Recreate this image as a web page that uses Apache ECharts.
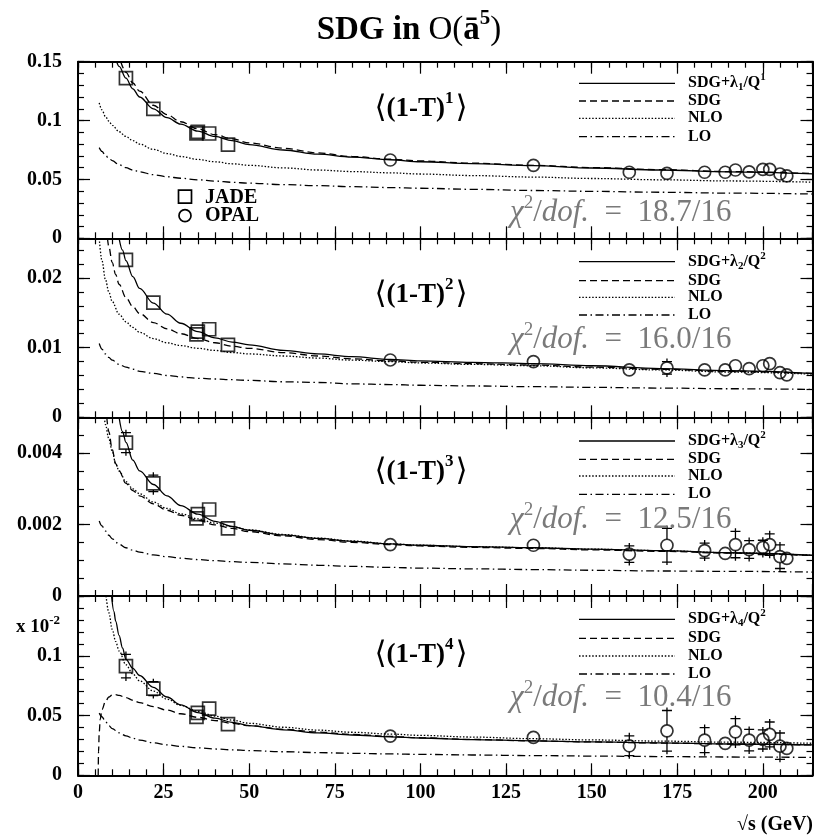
<!DOCTYPE html>
<html><head><meta charset="utf-8">
<script src="https://cdn.jsdelivr.net/npm/echarts@6/dist/echarts.min.js"></script>
<style>html,body{margin:0;padding:0;background:#fff}#c{width:818px;height:838px}</style>
</head><body><div id="c"></div><script>
// ---------------- DATA ----------------
const jadeX = [14, 22, 34.6, 35, 38.3, 43.8];
const opalX = [91.2, 133, 161, 172, 183, 189, 192, 196, 200, 202, 205, 207];
const xTickLabels = ['0', '25', '50', '75', '100', '125', '150', '175', '200'];

// Panel 1: <(1-T)^1>
const p1Jade = [0.136, 0.1099, 0.0892, 0.0905, 0.089, 0.0795];
const p1JadeErr = [0.001, 0.001, 0.0008, 0.0008, 0.001, 0.001];
const p1Opal = [0.0665, 0.062, 0.0561, 0.0552, 0.0561, 0.0561, 0.058, 0.0564, 0.0586, 0.0586, 0.0546, 0.053];
const p1OpalErr = [0.0003, 0.001, 0.0015, 0.0015, 0.001, 0.001, 0.0012, 0.0012, 0.0012, 0.0012, 0.0012, 0.001];
const p1Solid = [[11.3,0.150],[12,0.146],[14,0.136],[16,0.127],[18,0.120],[22,0.110],[26,0.1025],[30,0.097],[35,0.091],[40,0.0865],[45,0.083],[50,0.0795],[60,0.075],[70,0.0715],[80,0.069],[91.2,0.0667],[100,0.065],[115,0.0635],[133,0.0617],[150,0.0597],[170,0.058],[190,0.0565],[214.5,0.0548]];
const p1Sdg = [[12.5,0.150],[14,0.141],[16,0.132],[18,0.125],[22,0.113],[26,0.105],[30,0.099],[35,0.093],[40,0.088],[45,0.0845],[50,0.081],[60,0.0765],[70,0.0725],[80,0.0695],[91.2,0.0672],[100,0.0657],[115,0.0638],[133,0.062],[150,0.0601],[170,0.0583],[190,0.0567],[214.5,0.055]];
const p1Nlo = [[6.2,0.115],[7,0.109],[8,0.1035],[9,0.0995],[10,0.096],[12,0.0905],[14,0.0865],[16,0.083],[18,0.080],[22,0.0755],[26,0.072],[30,0.0695],[35,0.067],[40,0.065],[45,0.0633],[50,0.062],[60,0.0598],[70,0.058],[80,0.0567],[91.2,0.0556],[100,0.0546],[115,0.0533],[133,0.052],[150,0.0508],[170,0.0497],[190,0.0487],[214.5,0.0477]];
const p1Lo = [[6.2,0.077],[7,0.0738],[8,0.0705],[9,0.068],[10,0.066],[12,0.0625],[14,0.060],[16,0.058],[18,0.0565],[22,0.054],[26,0.0523],[30,0.051],[35,0.0497],[40,0.0486],[45,0.0476],[50,0.0468],[60,0.0456],[70,0.0447],[80,0.0439],[91.2,0.0431],[100,0.0425],[115,0.0416],[133,0.0406],[150,0.0399],[170,0.0391],[190,0.0384],[214.5,0.0376]];

// Panel 2: <(1-T)^2>
const p2Jade = [0.0226, 0.01647, 0.0119, 0.0123, 0.01264, 0.01039];
const p2JadeErr = [0.0003, 0.0003, 0.0002, 0.0002, 0.0002, 0.0002];
const p2Opal = [0.00823, 0.0080, 0.0068, 0.0071, 0.0068, 0.0068, 0.0074, 0.0070, 0.0074, 0.0077, 0.0064, 0.0061];
const p2OpalErr = [0.0001, 0.0002, 0.0005, 0.0009, 0.0003, 0.0002, 0.0006, 0.0004, 0.0004, 0.0006, 0.0004, 0.0002];
const p2Solid = [[12,0.0257],[13,0.0240],[14,0.0225],[16,0.0202],[18,0.0185],[22,0.0164],[26,0.0148],[30,0.0135],[35,0.0123],[40,0.0114],[45,0.0108],[50,0.0104],[60,0.0096],[70,0.0091],[80,0.0087],[91.2,0.0083],[100,0.0081],[115,0.0079],[133,0.0077],[150,0.0074],[170,0.0070],[190,0.0067],[214.5,0.0063]];
const p2Sdg = [[8.6,0.0257],[9,0.0245],[10,0.0222],[11,0.0205],[12,0.0191],[14,0.0172],[16,0.0159],[18,0.0149],[22,0.0136],[26,0.0127],[30,0.0120],[35,0.0113],[40,0.0107],[45,0.0102],[50,0.0099],[60,0.0093],[70,0.0088],[80,0.0084],[91.2,0.0081],[100,0.0079],[115,0.0077],[133,0.0075],[150,0.0072],[170,0.0069],[190,0.0066],[214.5,0.0063]];
const p2Nlo = [[6.2,0.0257],[7,0.0225],[8,0.0198],[9,0.0180],[10,0.0166],[12,0.0148],[14,0.0137],[16,0.0129],[18,0.0122],[22,0.0113],[26,0.0107],[30,0.0103],[35,0.0099],[40,0.0096],[45,0.0093],[50,0.0091],[60,0.0088],[70,0.0085],[80,0.0082],[91.2,0.0080],[100,0.0078],[115,0.0076],[133,0.0074],[150,0.0071],[170,0.0068],[190,0.0065],[214.5,0.0062]];
const p2Lo = [[6.2,0.0106],[7,0.0098],[8,0.0091],[9,0.0086],[10,0.0082],[12,0.0076],[14,0.0072],[16,0.0069],[18,0.0066],[22,0.0063],[26,0.0060],[30,0.0058],[35,0.0056],[40,0.0055],[45,0.0054],[50,0.0053],[60,0.0051],[70,0.0050],[80,0.0048],[91.2,0.0047],[100,0.0046],[115,0.0045],[133,0.0044],[150,0.0043],[170,0.0042],[190,0.0041],[214.5,0.0040]];

// Panel 3: <(1-T)^3>
const p3Jade = [0.00429, 0.00315, 0.00217, 0.00229, 0.00242, 0.00189];
const p3JadeErr = [0.00028, 0.00023, 0.00008, 0.00008, 0.0001, 0.00006];
const p3Opal = [0.00144, 0.00142, 0.00117, 0.00142, 0.00127, 0.00119, 0.00144, 0.0013, 0.00136, 0.00144, 0.0011, 0.00105];
const p3OpalErr = [0.00003, 0.0001, 0.00023, 0.00047, 0.00021, 0.0001, 0.00037, 0.00025, 0.0002, 0.0003, 0.00033, 0.0001];
const p3Solid = [[12,0.0050],[13,0.0046],[14,0.0043],[16,0.0038],[18,0.0035],[22,0.00312],[26,0.0028],[30,0.00253],[35,0.00229],[40,0.00209],[45,0.00195],[50,0.00184],[60,0.00171],[70,0.00161],[80,0.00153],[91.2,0.00146],[100,0.00142],[115,0.00138],[133,0.00135],[150,0.00131],[170,0.00127],[190,0.00121],[214.5,0.00114]];
const p3Sdg = [[8.4,0.0050],[9,0.0046],[10,0.0041],[11,0.0037],[12,0.0035],[14,0.00315],[16,0.00295],[18,0.0028],[22,0.00258],[26,0.0024],[30,0.00226],[35,0.00212],[40,0.00199],[45,0.00189],[50,0.0018],[60,0.00168],[70,0.00158],[80,0.0015],[91.2,0.00144],[100,0.0014],[115,0.00136],[133,0.00133],[150,0.00129],[170,0.00125],[190,0.0012],[214.5,0.00113]];
const p3Nlo = [[7.7,0.0050],[8,0.0048],[9,0.0044],[10,0.00405],[11,0.0037],[12,0.0035],[14,0.0032],[16,0.003],[18,0.00286],[22,0.00263],[26,0.00245],[30,0.0023],[35,0.00216],[40,0.00204],[45,0.00194],[50,0.00185],[60,0.00172],[70,0.00162],[80,0.00154],[91.2,0.00146],[100,0.00142],[115,0.00138],[133,0.00135],[150,0.00131],[170,0.00127],[190,0.00121],[214.5,0.00114]];
const p3Lo = [[6.2,0.0021],[7,0.00196],[8,0.00182],[9,0.0017],[10,0.0016],[12,0.00145],[14,0.00135],[16,0.00128],[18,0.00123],[22,0.00115],[26,0.0011],[30,0.00106],[35,0.00102],[40,0.00099],[45,0.00096],[50,0.00094],[60,0.0009],[70,0.00086],[80,0.00083],[91.2,0.0008],[100,0.00078],[115,0.00076],[133,0.00074],[150,0.00072],[170,0.0007],[190,0.00069],[214.5,0.00067]];

// Panel 4: <(1-T)^4>  (x 10^-2)
const p4Jade = [0.0913, 0.0725, 0.0488, 0.0522, 0.0558, 0.0428];
const p4JadeErr = [0.0098, 0.0058, 0.003, 0.003, 0.004, 0.003];
const p4Opal = [0.0328, 0.0317, 0.0247, 0.0372, 0.0294, 0.0267, 0.0364, 0.0294, 0.03, 0.0342, 0.0244, 0.0225];
const p4OpalErr = [0.001, 0.002, 0.0083, 0.017, 0.0105, 0.003, 0.011, 0.009, 0.008, 0.0104, 0.011, 0.003];
const p4Solid = [[9.8,0.150],[10.5,0.137],[11,0.129],[12,0.117],[13,0.1065],[14,0.097],[16,0.0895],[18,0.0835],[22,0.0735],[26,0.0655],[30,0.059],[35,0.0525],[40,0.0478],[45,0.0443],[50,0.0416],[60,0.038],[70,0.0355],[80,0.0337],[91.2,0.0322],[100,0.0312],[115,0.0299],[133,0.0288],[150,0.0279],[170,0.0271],[190,0.0262],[214.5,0.0255]];
const p4Sdg = [[5.9,0],[6,0.02],[6.2,0.036],[6.5,0.047],[7,0.055],[8,0.0615],[9,0.0655],[10,0.0672],[11,0.0675],[12,0.0668],[14,0.065],[16,0.0628],[18,0.0608],[22,0.0575],[26,0.0545],[30,0.0515],[35,0.0485],[40,0.0458],[45,0.0435],[50,0.0415],[60,0.0385],[70,0.0362],[80,0.0342],[91.2,0.0325],[100,0.0314],[115,0.03],[133,0.0288],[150,0.0279],[170,0.027],[190,0.0262],[214.5,0.0254]];
const p4Nlo = [[8.2,0.150],[9,0.136],[10,0.122],[11,0.112],[12,0.104],[14,0.0925],[16,0.0848],[18,0.079],[22,0.0705],[26,0.0637],[30,0.0585],[35,0.0535],[40,0.0495],[45,0.0462],[50,0.0435],[60,0.0402],[70,0.0378],[80,0.036],[91.2,0.0345],[100,0.0334],[115,0.032],[133,0.0306],[150,0.0296],[170,0.0286],[190,0.0277],[214.5,0.0268]];
const p4Lo = [[6.2,0.052],[7,0.049],[8,0.045],[9,0.0415],[10,0.039],[12,0.0355],[14,0.033],[16,0.031],[18,0.0295],[22,0.0272],[26,0.0255],[30,0.0242],[35,0.023],[40,0.022],[45,0.0213],[50,0.0207],[60,0.0197],[70,0.019],[80,0.0184],[91.2,0.0179],[100,0.0175],[115,0.017],[133,0.0165],[150,0.0161],[170,0.0157],[190,0.0153],[214.5,0.015]];

const yMaxs = [0.15, 0.0257, 0.005, 0.15];
const yMajors = [0.05, 0.01, 0.002, 0.05];
const yMinors = [0.01, 0.002, 0.0005, 0.01];
const chi2Labels = ['18.7/16', '16.0/16', '12.5/16', '10.4/16'];
const qPowers = ['1', '2', '2', '2'];
const legendNames = ['SDG', 'NLO', 'LO'];

// ---------------- LAYOUT ----------------
const FONT = '"Liberation Serif", "Times New Roman", "DejaVu Serif", serif';
const XMAX = 214.5;
const LEFT = 78, WIDTH = 734.5;
const geom = [
  {top: 61.7, h: 176.6, label: 109, chi: 213, rows: [83.3, 101, 118.3, 136.7]},
  {top: 238.3, h: 179, label: 295, chi: 340, rows: [261.7, 280.7, 297.3, 315]},
  {top: 417.3, h: 178.7, label: 472, chi: 520, rows: [441, 459.3, 476, 494.3]},
  {top: 596, h: 179.3, label: 655, chi: 698, rows: [619.3, 638.3, 656, 674]}
];
const panelData = [
  {jade: p1Jade, jadeErr: p1JadeErr, opal: p1Opal, opalErr: p1OpalErr, curves: [p1Solid, p1Sdg, p1Nlo, p1Lo]},
  {jade: p2Jade, jadeErr: p2JadeErr, opal: p2Opal, opalErr: p2OpalErr, curves: [p2Solid, p2Sdg, p2Nlo, p2Lo]},
  {jade: p3Jade, jadeErr: p3JadeErr, opal: p3Opal, opalErr: p3OpalErr, curves: [p3Solid, p3Sdg, p3Nlo, p3Lo]},
  {jade: p4Jade, jadeErr: p4JadeErr, opal: p4Opal, opalErr: p4OpalErr, curves: [p4Solid, p4Sdg, p4Nlo, p4Lo]}
];
const DASHES = ['solid', [7, 4], [1.5, 1.8], [8, 3.5, 1.5, 3.5]];

const fmt = v => String(Math.round(v * 1e6) / 1e6);

const grids = [], xAxes = [], yAxes = [], series = [], graphics = [];

function xAxis(i, pos, major) {
  return {
    type: 'value', gridIndex: i, position: pos, min: 0, max: XMAX,
    interval: major ? 25 : 5,
    axisLine: {show: major, onZero: false, lineStyle: {color: '#000', width: 2}},
    axisTick: {show: true, inside: true, length: major ? 12 : 6, lineStyle: {color: '#000', width: 1.2}},
    axisLabel: {
      show: major && pos === 'bottom' && i === 3, showMaxLabel: false, margin: 8,
      color: '#000', fontFamily: FONT, fontWeight: 'bold', fontSize: 20,
      formatter: v => xTickLabels[Math.round(v / 25)] || ''
    },
    splitLine: {show: false}, minorTick: {show: false}
  };
}
function yAxis(i, pos, major) {
  return {
    type: 'value', gridIndex: i, position: pos, min: 0, max: yMaxs[i],
    interval: major ? yMajors[i] : yMinors[i],
    axisLine: {show: major, onZero: false, lineStyle: {color: '#000', width: 2}},
    axisTick: {show: true, inside: true, length: major ? 12 : 6, lineStyle: {color: '#000', width: 1.2}},
    axisLabel: {
      show: major && pos === 'left', showMaxLabel: i === 0, showMinLabel: true, margin: 16,
      color: '#000', fontFamily: FONT, fontWeight: 'bold', fontSize: 20,
      formatter: fmt
    },
    splitLine: {show: false}, minorTick: {show: false}
  };
}

function errRender(params, api) {
  const x = api.value(0), y = api.value(1), e = api.value(2), r = api.value(3);
  const c = api.coord([x, y]);
  const hi = api.coord([x, y + e]);
  const lo = api.coord([x, y - e]);
  const st = {stroke: '#000', lineWidth: 1.3};
  const ch = [];
  const cap = 5, ext = 3;
  if (c[1] - hi[1] > r) {
    ch.push({type: 'line', shape: {x1: c[0], y1: c[1] - r, x2: c[0], y2: hi[1] - ext}, style: st});
    ch.push({type: 'line', shape: {x1: c[0] - cap, y1: hi[1], x2: c[0] + cap, y2: hi[1]}, style: st});
  }
  if (lo[1] - c[1] > r) {
    ch.push({type: 'line', shape: {x1: c[0], y1: c[1] + r, x2: c[0], y2: lo[1] + ext}, style: st});
    ch.push({type: 'line', shape: {x1: c[0] - cap, y1: lo[1], x2: c[0] + cap, y2: lo[1]}, style: st});
  }
  return {type: 'group', children: ch};
}

geom.forEach((g, i) => {
  grids.push({left: LEFT, width: WIDTH, top: g.top, height: g.h, show: false, containLabel: false, outerBoundsMode: 'none'});
  xAxes.push(xAxis(i, 'bottom', true), xAxis(i, 'bottom', false), xAxis(i, 'top', true), xAxis(i, 'top', false));
  yAxes.push(yAxis(i, 'left', true), yAxis(i, 'left', false), yAxis(i, 'right', true), yAxis(i, 'right', false));
  const ax = {xAxisIndex: 4 * i, yAxisIndex: 4 * i};
  const P = panelData[i];
  P.curves.forEach((cv, k) => {
    series.push(Object.assign({
      type: 'line', data: cv, showSymbol: false, smooth: 0.35, smoothMonotone: 'x', clip: true,
      lineStyle: {color: '#000', width: 1.3, type: DASHES[k]}, silent: true, z: 2
    }, ax));
  });
  series.push(Object.assign({
    type: 'custom', renderItem: errRender, clip: true, z: 3,
    data: jadeX.map((x, k) => [x, P.jade[k], P.jadeErr[k], 6.5])
      .concat(opalX.map((x, k) => [x, P.opal[k], P.opalErr[k], 6]))
  }, ax));
  series.push(Object.assign({
    type: 'scatter', data: jadeX.map((x, k) => [x, P.jade[k]]), symbol: 'rect', symbolSize: 13,
    itemStyle: {color: 'rgba(0,0,0,0)', borderColor: '#000', borderWidth: 1.7}, z: 4, silent: true
  }, ax));
  series.push(Object.assign({
    type: 'scatter', data: opalX.map((x, k) => [x, P.opal[k]]), symbol: 'circle', symbolSize: 12,
    itemStyle: {color: 'rgba(0,0,0,0)', borderColor: '#000', borderWidth: 1.7}, z: 4, silent: true
  }, ax));

  // panel label <(1-T)^n>
  graphics.push({type: 'text', x: 421, y: g.label, z: 10, style: {
    text: '{a|⟨}{b|(1-T)}{s|' + (i + 1) + '}{a|⟩}', align: 'center', verticalAlign: 'middle',
    rich: {
      a: {fontFamily: FONT, fontSize: 31, fill: '#000', verticalAlign: 'middle'},
      b: {fontFamily: FONT, fontWeight: 'bold', fontSize: 27, fill: '#000', verticalAlign: 'middle'},
      s: {fontFamily: FONT, fontWeight: 'bold', fontSize: 17, fill: '#000', verticalAlign: 'middle', padding: [0, 2, 20, 0]}
    }}});
  // chi2
  graphics.push({type: 'text', x: 510, y: g.chi, z: 10, style: {
    text: '{i|χ}{s|2}{n|/}{i|dof.}{n|  =  ' + chi2Labels[i] + '}', align: 'left', verticalAlign: 'middle',
    rich: {
      i: {fontFamily: FONT, fontStyle: 'italic', fontSize: 31, fill: '#7a7a7a', verticalAlign: 'middle'},
      n: {fontFamily: FONT, fontSize: 31, fill: '#7a7a7a', verticalAlign: 'middle'},
      s: {fontFamily: FONT, fontSize: 19, fill: '#7a7a7a', verticalAlign: 'middle', padding: [0, 0, 20, 0]}
    }}});
  // legend
  const names = ['{b|SDG+λ}{sub|' + (i + 1) + '}{b|/Q}{sup|' + qPowers[i] + '}'].concat(legendNames.map(n => '{b|' + n + '}'));
  names.forEach((nm, k) => {
    const y = g.rows[k];
    graphics.push({type: 'line', z: 10, shape: {x1: 579, y1: y, x2: 675, y2: y},
      style: {stroke: '#000', lineWidth: 1.3, lineDash: DASHES[k] === 'solid' ? null : DASHES[k]}});
    graphics.push({type: 'text', x: 688, y: y, z: 10, style: {
      text: nm, align: 'left', verticalAlign: 'middle',
      rich: {
        b: {fontFamily: FONT, fontWeight: 'bold', fontSize: 16, fill: '#000', verticalAlign: 'middle'},
        sub: {fontFamily: FONT, fontWeight: 'bold', fontSize: 11, fill: '#000', verticalAlign: 'middle', padding: [8, 0, 0, 0]},
        sup: {fontFamily: FONT, fontWeight: 'bold', fontSize: 11, fill: '#000', verticalAlign: 'middle', padding: [0, 0, 12, 0]}
      }}});
  });
});

// JADE / OPAL key
graphics.push({type: 'rect', z: 10, shape: {x: 185 - 6.5, y: 196.7 - 6.5, width: 13, height: 13}, style: {fill: 'none', stroke: '#000', lineWidth: 1.7}});
graphics.push({type: 'circle', z: 10, shape: {cx: 185, cy: 215.7, r: 6}, style: {fill: 'none', stroke: '#000', lineWidth: 1.7}});
graphics.push({type: 'text', x: 205, y: 197.5, z: 10, style: {text: 'JADE', fontFamily: FONT, fontWeight: 'bold', fontSize: 20, fill: '#000', align: 'left', verticalAlign: 'middle'}});
graphics.push({type: 'text', x: 205, y: 216, z: 10, style: {text: 'OPAL', fontFamily: FONT, fontWeight: 'bold', fontSize: 20, fill: '#000', align: 'left', verticalAlign: 'middle'}});

// title
graphics.push({type: 'text', x: 409, y: 30, z: 10, style: {
  text: '{b|SDG in }{n|O(}{b|ā}{s|5}{n|)}', align: 'center', verticalAlign: 'middle',
  rich: {
    b: {fontFamily: FONT, fontWeight: 'bold', fontSize: 33, fill: '#000', verticalAlign: 'middle'},
    n: {fontFamily: FONT, fontSize: 33, fill: '#000', verticalAlign: 'middle'},
    s: {fontFamily: FONT, fontWeight: 'bold', fontSize: 21, fill: '#000', verticalAlign: 'middle', padding: [0, 0, 22, 0]}
  }}});
// x10^-2
graphics.push({type: 'text', x: 16, y: 627, z: 10, style: {
  text: '{b|x 10}{s|-2}', align: 'left', verticalAlign: 'middle',
  rich: {
    b: {fontFamily: FONT, fontWeight: 'bold', fontSize: 19, fill: '#000', verticalAlign: 'middle'},
    s: {fontFamily: FONT, fontWeight: 'bold', fontSize: 13, fill: '#000', verticalAlign: 'middle', padding: [0, 0, 12, 0]}
  }}});
// x axis title
graphics.push({type: 'text', x: 813, y: 825, z: 10, style: {
  text: '√s (GeV)', fontFamily: FONT, fontWeight: 'bold', fontSize: 20, fill: '#000', align: 'right', verticalAlign: 'middle'}});

const chart = echarts.init(document.getElementById('c'), null, {renderer: 'canvas'});
chart.setOption({
  animation: false,
  backgroundColor: '#fff',
  grid: grids, xAxis: xAxes, yAxis: yAxes, series: series, graphic: graphics
});
</script></body></html>
